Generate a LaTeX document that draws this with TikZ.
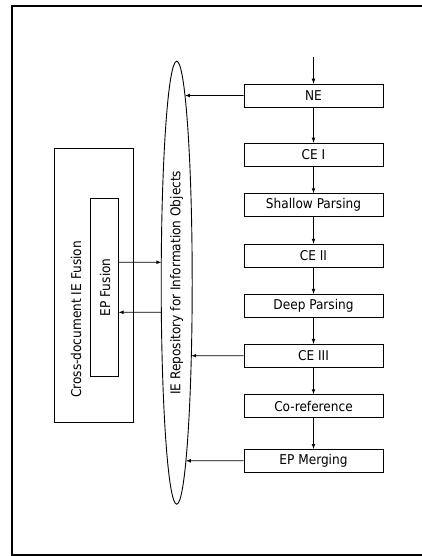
\documentclass[tikz,border=0pt]{standalone}
\usepackage{fontspec}
\setmainfont{DejaVu Sans Condensed}
\usetikzlibrary{shapes.geometric}
\usetikzlibrary{intersections}

\begin{document}
\begin{tikzpicture}[x=1pt,y=-1pt,>=latex,
        every node/.style={font=\fontsize{13.5}{16}\selectfont},
        stage/.style={draw,line width=0.7pt,minimum width=139pt,minimum height=23pt,inner sep=0pt},
        flow/.style={->,line width=0.7pt}]
        \useasboundingbox (0,0) rectangle (422,556);
        \begin{scope}
            \clip (0,0) rectangle (422,556);
            \draw[line width=1.3pt](12,6) rectangle (440,555);
        \end{scope}
        \foreach \name/\y/\txt in {ne/95.5/NE,ce1/154.5/CE I,shallow/205/Shallow Parsing,ce2/255.5/CE II,deep/305.7/Deep Parsing,ce3/355.7/CE III,coref/406/Co-reference,epm/460.8/EP Merging}
            \node[stage] (\name) at (313.5,\y) {\txt};
        \coordinate (start) at (313.5,57);
        \draw[flow](start)--(ne);
        \foreach \a/\b in {ne/ce1,ce1/shallow,shallow/ce2,ce2/deep,deep/ce3,ce3/coref,coref/epm}
            \draw[flow](\a)--(\b);
        \node[draw,ellipse,rotate=90,line width=0.9pt,minimum width=443pt,minimum height=31pt,inner sep=0pt] (repo) at (176.7,282.7) {IE Repository for Information Objects};
        \path[name path=repoedge](repo.center) ellipse [x radius=15.5, y radius=221.7];
        \foreach \src in {ne,ce3,epm}{
            \path[name path=hline](\src.west)--(\src.west -| repo.center);
            \draw[flow,name intersections={of=hline and repoedge,by=hit}](\src.west)--(hit);
        }
        \node[draw,line width=0.7pt,minimum width=78.7pt,minimum height=273.7pt] (cross) at (93.7,285.2) {};
        \node[rotate=90] (crosslabel) at (76,319.5) {Cross-document IE Fusion};
        \node[draw,line width=0.7pt,minimum width=27.6pt,minimum height=178pt,inner sep=0pt] (fusion) at (104.5,287.3) {};
        \node[rotate=90] (fusionlabel) at (105,287.3) {EP Fusion};
        \path[name path=hout]([yshift=25pt]fusion.east)--([yshift=25pt]fusion.east -| repo.center);
        \draw[flow,name intersections={of=hout and repoedge,by=outhit}]([yshift=25pt]fusion.east)--(outhit);
        \path[name path=hback]([yshift=-25pt]fusion.east)--([yshift=-25pt]fusion.east -| repo.center);
        \draw[flow,name intersections={of=hback and repoedge,by=backhit}](backhit)--([yshift=-25pt]fusion.east);
    \end{tikzpicture}
\end{document}
